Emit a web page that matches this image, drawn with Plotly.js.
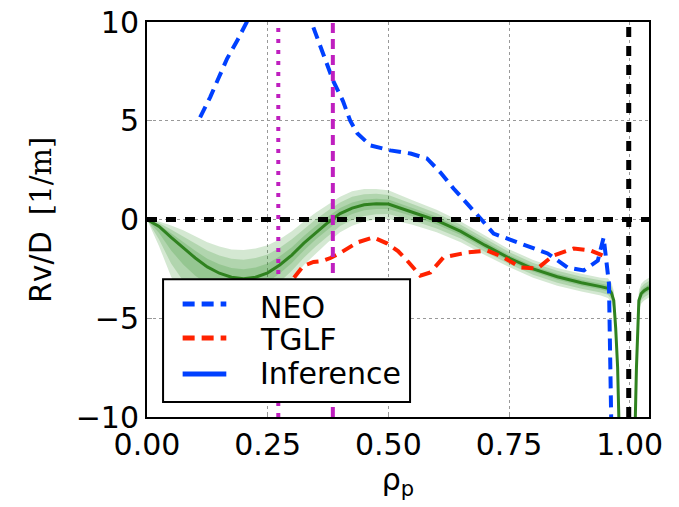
<!DOCTYPE html>
<html><head><meta charset="utf-8">
<script src="https://cdn.plot.ly/plotly-3.0.1.min.js"></script>
<style>html,body{margin:0;padding:0;background:#fff}#chart{width:679px;height:507px}</style>
</head><body><div id="chart"></div>
<script>
const xTickVals=[0,0.25,0.5,0.75,1.0];
const xTickText=['0.00','0.25','0.50','0.75','1.00'];
const yTickVals=[-10,-5,0,5,10];
const yTickText=['\u221210','\u22125','0','5','10'];
const seriesNames=['NEO','TGLF','Inference'];

const neoX=[0.11,0.131,0.149,0.166,0.187,0.205,0.27,0.342,0.355,0.369,0.386,0.406,0.421,0.436,0.463,0.504,0.546,0.58,0.608,0.635,0.664,0.691,0.718,0.774,0.83,0.871,0.905,0.934,0.946,0.957,0.961,0.963];
const neoY=[5.17,6.2,7.2,8.15,9.06,9.9,13,9.9,9.06,8.05,7.0,6.0,5.0,4.35,3.75,3.5,3.34,3.09,2.38,1.57,0.81,0.05,-0.71,-1.22,-1.72,-2.43,-2.58,-2.08,-0.91,-3.24,-7.5,-12];

const tglfX=[0.28,0.293,0.303,0.324,0.345,0.363,0.38,0.40,0.436,0.469,0.498,0.52,0.539,0.566,0.587,0.614,0.664,0.705,0.739,0.774,0.809,0.842,0.884,0.919,0.944,0.95];
const tglfY=[-3.7,-3.3,-3.0,-2.35,-2.15,-2.1,-1.95,-1.7,-1.16,-0.91,-1.22,-1.6,-2.08,-2.84,-2.68,-1.92,-1.67,-1.57,-1.92,-2.43,-2.48,-1.82,-1.47,-1.57,-1.82,-1.9];

const inferX=[0,0.025,0.05,0.075,0.1,0.125,0.15,0.175,0.2,0.225,0.25,0.275,0.3,0.325,0.35,0.375,0.4,0.425,0.45,0.475,0.5,0.55,0.6,0.65,0.7,0.75,0.8,0.85,0.9,0.94,0.955,0.962,0.967,0.971,0.975,0.978,0.981,1.008,1.011,1.014,1.019,1.024,1.03,1.04];
const inferY=[0,-0.35,-0.9,-1.45,-1.95,-2.4,-2.72,-2.92,-3.0,-2.92,-2.7,-2.3,-1.8,-1.2,-0.65,-0.15,0.3,0.58,0.75,0.8,0.78,0.38,-0.05,-0.6,-1.3,-1.95,-2.5,-2.9,-3.2,-3.4,-3.48,-3.7,-4.1,-5.5,-7.5,-10.5,-14,-14,-11,-7.5,-4.1,-3.75,-3.6,-3.45];
// outer (3-level) band extent above / below the inference curve
const bandUp=[0,0.25,0.6,0.9,1.1,1.25,1.35,1.4,1.45,1.45,1.4,1.3,1.2,1.1,1.0,0.9,0.85,0.85,0.8,0.75,0.7,0.6,0.55,0.5,0.5,0.45,0.45,0.45,0.45,0.45,0.5,0.5,0.5,0.5,0.5,0.5,0.5,0.5,0.5,0.5,0.5,0.5,0.5,0.5];
const bandLo=[0,1.0,2.0,2.5,2.7,2.6,2.3,2.0,1.8,1.6,1.45,1.3,1.2,1.1,1.05,1.0,0.95,0.9,0.85,0.8,0.75,0.65,0.6,0.55,0.5,0.45,0.45,0.45,0.45,0.45,0.5,0.5,0.5,0.5,0.5,0.5,0.5,0.5,0.5,0.5,0.5,0.5,0.5,0.5];
const bandLevels=[3,2,1];

const rhoMagDot=0.272;
const rhoMagDash=0.385;
const rhoSep=0.998;
const zeroLevel=0;

const FONT='DejaVu Sans';
const C_NEO='#0040ff', C_TGLF='#ff2200', C_INF_LEG='#0040ff', C_INF='#2f821f';
const DASH='12px,7px';

const traces=[];
bandLevels.forEach(k=>{
  traces.push({x:inferX,y:inferY.map((v,i)=>v-bandLo[i]*k/3),mode:'lines',line:{width:0,color:'rgba(0,0,0,0)'},showlegend:false,hoverinfo:'skip'});
  traces.push({x:inferX,y:inferY.map((v,i)=>v+bandUp[i]*k/3),mode:'lines',line:{width:0,color:'rgba(0,0,0,0)'},fill:'tonexty',fillcolor:'rgba(40,140,30,0.2)',showlegend:false,hoverinfo:'skip'});
});
traces.push({x:inferX,y:inferY,mode:'lines',name:seriesNames[2],line:{color:C_INF,width:3},showlegend:false});
traces.push({x:neoX,y:neoY,mode:'lines',name:seriesNames[0],line:{color:C_NEO,width:4,dash:DASH},showlegend:false});
traces.push({x:tglfX,y:tglfY,mode:'lines',name:seriesNames[1],line:{color:C_TGLF,width:4,dash:DASH},showlegend:false});

const axisCommon={ticks:'inside',ticklen:5,tickcolor:'#999',tickwidth:1,showline:true,mirror:true,linecolor:'#000',linewidth:2,
  showgrid:true,gridcolor:'#999',gridwidth:1,griddash:'dot',zeroline:false,tickfont:{family:FONT,size:30,color:'#000'}};

// legend box (drawn as layout shapes + annotations, in paper coordinates)
const legBox={x0:0.032,x1:0.524,y0:0.038,y1:0.349};
const legLineX=[0.071,0.158];
const legRowY=[0.286,0.200,0.109];
const legTextX=0.221;
const legTextY=[0.278,0.196,0.110];
const legColors=[C_NEO,C_TGLF,C_INF_LEG];
const legDash=[DASH,DASH,'solid'];

const shapes=[
  {type:'line',xref:'x',yref:'paper',x0:rhoMagDot,x1:rhoMagDot,y0:0,y1:1,line:{color:'#bf1fbf',width:4,dash:'4px,7px'},layer:'above'},
  {type:'line',xref:'x',yref:'paper',x0:rhoMagDash,x1:rhoMagDash,y0:0,y1:1,line:{color:'#bf1fbf',width:4,dash:'10px,6px'},layer:'above'},
  {type:'line',xref:'x',yref:'paper',x0:rhoSep,x1:rhoSep,y0:0,y1:1,line:{color:'#000',width:5,dash:'10px,9px'},layer:'above'},
  {type:'line',xref:'paper',yref:'y',x0:0,x1:1,y0:zeroLevel,y1:zeroLevel,line:{color:'#000',width:5,dash:'10px,9px'},layer:'above'},
  {type:'rect',xref:'paper',yref:'paper',x0:legBox.x0,x1:legBox.x1,y0:legBox.y0,y1:legBox.y1,fillcolor:'#fff',line:{color:'#000',width:2},layer:'above'}
];
const annotations=[
  {xref:'paper',yref:'paper',x:-0.211,y:0.38,xanchor:'center',yanchor:'middle',textangle:-90,showarrow:false,
    text:'Rv/D',font:{family:FONT,size:30,color:'#000'}},
  {xref:'paper',yref:'paper',x:-0.211,y:0.61,xanchor:'center',yanchor:'middle',textangle:-90,showarrow:false,
    text:'[1/m]',font:{family:'DejaVu Serif',size:29,color:'#000'}}
];
seriesNames.forEach((nm,i)=>{
  shapes.push({type:'line',xref:'paper',yref:'paper',x0:legLineX[0],x1:legLineX[1],y0:legRowY[i],y1:legRowY[i],
    line:{color:legColors[i],width:5,dash:legDash[i]},layer:'above'});
  annotations.push({xref:'paper',yref:'paper',x:legTextX,y:legTextY[i],xanchor:'left',yanchor:'middle',showarrow:false,
    text:nm,font:{family:FONT,size:30,color:'#000'}});
});

const layout={
  width:679,height:507,paper_bgcolor:'#fff',plot_bgcolor:'#fff',
  margin:{l:147,r:30,t:22,b:90},
  font:{family:FONT,size:30,color:'#000'},
  showlegend:false,
  xaxis:Object.assign({},axisCommon,{range:[0,1.04],tickmode:'array',tickvals:xTickVals,ticktext:xTickText,
    title:{text:'\u03c1<sub>p</sub>',font:{family:FONT,size:30,color:'#000'},standoff:4}}),
  yaxis:Object.assign({},axisCommon,{range:[-10,10],tickmode:'array',tickvals:yTickVals,ticktext:yTickText}),
  annotations:annotations,
  shapes:shapes
};
Plotly.newPlot('chart',traces,layout,{staticPlot:true,displayModeBar:false});
</script>
</body></html>
